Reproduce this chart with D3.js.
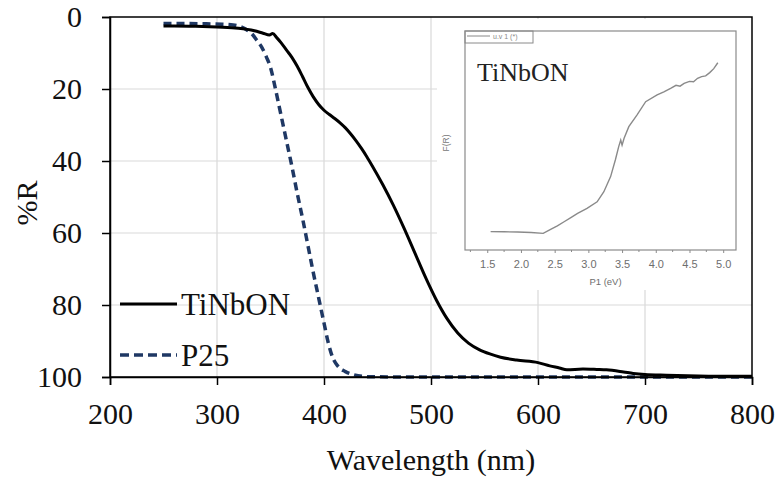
<!DOCTYPE html>
<html>
<head>
<meta charset="utf-8">
<script src="https://cdn.jsdelivr.net/npm/d3@7"></script>
<style>
body { margin: 0; background: #fff; }
svg { display: block; }
svg text { font-family: "Liberation Serif", "Times New Roman", Times, serif; }
svg text.sans { font-family: "Liberation Sans", Arial, sans-serif; }
</style>
</head>
<body>
<svg id="viz"></svg>
<script>
// main spectrum, %R vs wavelength
var tinbonWl = [250, 260, 280, 300, 320, 335, 343, 349, 352, 356, 360, 365, 370, 375, 380, 385, 390, 395, 400, 405, 410, 415, 420, 425, 430, 435, 440, 445, 455, 465, 475, 485, 495, 505, 515, 525, 535, 545, 555, 565, 580, 600, 611, 620, 627, 642, 655, 664, 680, 689, 700, 720, 750, 780, 800];
var tinbonR = [2.5, 2.5, 2.6, 2.8, 3.1, 3.8, 4.5, 5.0, 4.6, 5.8, 7.2, 9.2, 11.2, 13.7, 16.6, 19.6, 22.2, 24.3, 25.9, 27.1, 28.2, 29.4, 30.8, 32.5, 34.4, 36.5, 38.8, 41.3, 46.6, 52.4, 58.8, 65.6, 72.4, 78.6, 83.8, 87.8, 90.6, 92.4, 93.6, 94.5, 95.3, 96.0, 96.9, 97.5, 98.0, 97.8, 97.9, 98.0, 98.6, 99.0, 99.3, 99.5, 99.7, 99.8, 99.8];

var p25Wl = [250, 270, 290, 305, 315, 320, 328, 333, 337, 342, 346, 350, 355, 360, 365, 370, 375, 380, 385, 390, 395, 400, 404, 408, 413, 420, 428, 440, 470, 550, 650, 800];
var p25R = [1.8, 1.8, 1.9, 2.0, 2.2, 2.5, 3.6, 4.8, 6.4, 8.5, 11.0, 14.0, 20.5, 27.5, 34.5, 41.5, 49.0, 56.0, 63.5, 71.0, 78.0, 85.0, 90.5, 94.5, 97.0, 98.5, 99.4, 99.9, 100, 100, 100, 100];

var xTicks = [200, 300, 400, 500, 600, 700, 800];
var yTicks = [0, 20, 40, 60, 80, 100];
var seriesNames = ["TiNbON", "P25"];

// inset: F(R) vs photon energy (arbitrary units)
var insetEv = [1.55, 1.75, 1.95, 2.15, 2.33, 2.44, 2.54, 2.64, 2.74, 2.84, 2.98, 3.13, 3.23, 3.33, 3.40, 3.45, 3.48, 3.50, 3.53, 3.60, 3.72, 3.85, 4.02, 4.12, 4.22, 4.30, 4.36, 4.42, 4.50, 4.56, 4.62, 4.68, 4.74, 4.80, 4.86, 4.92];
var insetF = [0.84, 0.83, 0.82, 0.80, 0.76, 0.94, 1.10, 1.29, 1.48, 1.67, 1.90, 2.20, 2.66, 3.35, 4.11, 4.72, 5.02, 4.79, 5.10, 5.63, 6.16, 6.77, 7.08, 7.22, 7.38, 7.52, 7.48, 7.61, 7.70, 7.68, 7.84, 7.92, 7.95, 8.10, 8.28, 8.55];
var insetTicks = [1.5, 2.0, 2.5, 3.0, 3.5, 4.0, 4.5, 5.0];
var insetMinor = [1.25, 1.75, 2.25, 2.75, 3.25, 3.75, 4.25, 4.75];

var width = 779;
var height = 477;

var svg = d3.select("#viz").attr("width", width).attr("height", height);

var x = d3.scaleLinear().domain([200, 800]).range([110, 752]);
var y = d3.scaleLinear().domain([0, 100]).range([17, 377]);

// gridlines
var grid = svg.append("g").attr("stroke", "#d9d9d9").attr("stroke-width", 1.2);
grid.selectAll("line.v")
    .data(xTicks.slice(1, -1))
    .enter().append("line")
    .attr("x1", function(d) { return x(d); })
    .attr("x2", function(d) { return x(d); })
    .attr("y1", y(0)).attr("y2", y(100));
grid.selectAll("line.h")
    .data(yTicks.slice(1, -1))
    .enter().append("line")
    .attr("x1", x(200)).attr("x2", x(800))
    .attr("y1", function(d) { return y(d); })
    .attr("y2", function(d) { return y(d); });

// inset picture sits on a white patch over the grid
var ix0 = 465, ix1 = 736, iy0 = 31, iy1 = 250;
svg.append("rect")
    .attr("x", 437).attr("y", 19)
    .attr("width", 752 - 437 - 1).attr("height", 290 - 19)
    .attr("fill", "#fff");

var ix = d3.scaleLinear().domain([1.17, 5.19]).range([ix0, ix1]);
var iy = d3.scaleLinear().domain([0, 10]).range([iy1, iy0]);

var inset = svg.append("g");
inset.append("rect")
    .attr("x", ix0).attr("y", iy0)
    .attr("width", ix1 - ix0).attr("height", iy1 - iy0)
    .attr("fill", "none").attr("stroke", "#8a8a8a").attr("stroke-width", 1.2);

var ixAxis = inset.append("g")
    .attr("transform", "translate(0," + iy1 + ")")
    .call(d3.axisBottom(ix).tickValues(insetTicks).tickSize(3).tickPadding(7)
        .tickFormat(d3.format(".1f")));
ixAxis.select(".domain").remove();
ixAxis.selectAll("line").attr("stroke", "#8a8a8a");
ixAxis.selectAll("text")
    .attr("class", "sans")
    .attr("fill", "#6e6e6e").attr("font-size", 11);
inset.append("g").selectAll("line")
    .data(insetMinor)
    .enter().append("line")
    .attr("x1", function(d) { return ix(d); })
    .attr("x2", function(d) { return ix(d); })
    .attr("y1", iy1).attr("y2", iy1 + 2)
    .attr("stroke", "#8a8a8a");

inset.append("text")
    .attr("class", "sans")
    .attr("x", (ix0 + ix1) / 2 + 5).attr("y", 285)
    .attr("text-anchor", "middle")
    .attr("font-size", 9.5).attr("fill", "#6e6e6e")
    .text("P1 (eV)");
inset.append("text")
    .attr("class", "sans")
    .attr("transform", "translate(449,143) rotate(-90)")
    .attr("text-anchor", "middle")
    .attr("font-size", 8.5).attr("fill", "#777")
    .text("F(R)");

// little legend box of the inset
inset.append("rect")
    .attr("x", ix0).attr("y", iy0)
    .attr("width", 68).attr("height", 12)
    .attr("fill", "none").attr("stroke", "#8a8a8a").attr("stroke-width", 1);
inset.append("line")
    .attr("x1", ix0 + 2).attr("x2", ix0 + 25)
    .attr("y1", iy0 + 5).attr("y2", iy0 + 5)
    .attr("stroke", "#888").attr("stroke-width", 1);
inset.append("text")
    .attr("class", "sans")
    .attr("x", ix0 + 28).attr("y", iy0 + 8)
    .attr("font-size", 7).attr("fill", "#888")
    .text("u.v 1 (*)");

inset.append("text")
    .attr("x", 477).attr("y", 81)
    .attr("font-size", 26).attr("fill", "#222")
    .text("TiNbON");

var insetPts = insetEv.map(function(e, i) { return [e, insetF[i]]; });
inset.append("path")
    .datum(insetPts)
    .attr("fill", "none")
    .attr("stroke", "#8a8a8a")
    .attr("stroke-width", 1.4)
    .attr("d", d3.line()
        .x(function(d) { return ix(d[0]); })
        .y(function(d) { return iy(d[1]); }));

// main curves
var line = d3.line()
    .curve(d3.curveMonotoneX)
    .x(function(d) { return x(d[0]); })
    .y(function(d) { return y(d[1]); });

var p25Pts = p25Wl.map(function(w, i) { return [w, p25R[i]]; });
var tinbonPts = tinbonWl.map(function(w, i) { return [w, tinbonR[i]]; });

svg.append("path")
    .datum(p25Pts)
    .attr("fill", "none")
    .attr("stroke", "#1f3864")
    .attr("stroke-width", 3.5)
    .attr("stroke-dasharray", "8,5")
    .attr("d", line);

svg.append("path")
    .datum(tinbonPts)
    .attr("fill", "none")
    .attr("stroke", "#000")
    .attr("stroke-width", 3)
    .attr("d", line);

// frame and axes
svg.append("rect")
    .attr("x", x(200)).attr("y", y(0))
    .attr("width", x(800) - x(200)).attr("height", y(100) - y(0))
    .attr("fill", "none").attr("stroke", "#000").attr("stroke-width", 1.5);

var xAxis = svg.append("g")
    .attr("transform", "translate(0," + y(100) + ")")
    .call(d3.axisBottom(x).tickValues(xTicks).tickSize(8).tickPadding(18));
var yAxis = svg.append("g")
    .attr("transform", "translate(" + x(200) + ",0)")
    .call(d3.axisLeft(y).tickValues(yTicks).tickSize(8).tickPadding(20));

[xAxis, yAxis].forEach(function(a) {
    a.attr("font-family", null);
    a.select(".domain").attr("stroke", "#000").attr("stroke-width", 1.5);
    a.selectAll("line").attr("stroke", "#000").attr("stroke-width", 1.5);
    a.selectAll("text").attr("font-size", 30).attr("fill", "#111");
});

svg.append("text")
    .attr("x", x(500)).attr("y", 470)
    .attr("text-anchor", "middle")
    .attr("font-size", 30).attr("fill", "#111")
    .text("Wavelength (nm)");

svg.append("text")
    .attr("transform", "translate(37,203) rotate(-90)")
    .attr("text-anchor", "middle")
    .attr("font-size", 30).attr("fill", "#111")
    .text("%R");

// legend
var legend = svg.append("g");
var legendRows = [
    { name: seriesNames[0], y: 304, color: "#000", dash: null, w: 3 },
    { name: seriesNames[1], y: 355, color: "#1f3864", dash: "9,5", w: 3.5 }
];
legendRows.forEach(function(r) {
    legend.append("line")
        .attr("x1", 120).attr("x2", 177)
        .attr("y1", r.y).attr("y2", r.y)
        .attr("stroke", r.color).attr("stroke-width", r.w)
        .attr("stroke-dasharray", r.dash);
    legend.append("text")
        .attr("x", 181).attr("y", r.y + 11)
        .attr("font-size", 31).attr("fill", "#111")
        .text(r.name);
});
</script>
</body>
</html>
